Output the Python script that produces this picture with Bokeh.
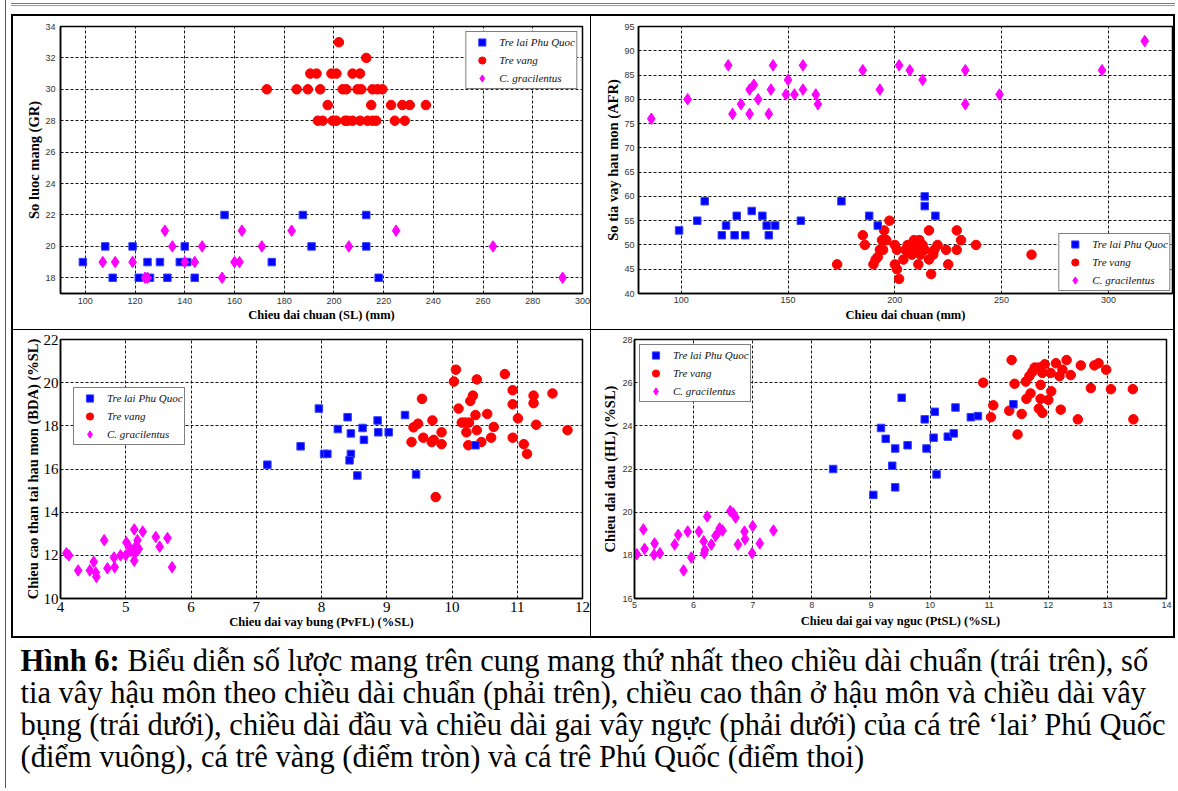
from bokeh.plotting import figure
from bokeh.models import Range1d, FixedTicker, Spacer, Legend, LegendItem
from bokeh.layouts import row, column
from bokeh.embed import file_html
from bokeh.resources import INLINE
from bokeh.core.properties import value

SERIES = ["Tre lai Phu Quoc", "Tre vang", "C. gracilentus"]

# ---------------- Panel 1: So luoc mang (GR) vs Chieu dai chuan (SL) ----------------
p1_blue_x = [99, 108, 111, 119, 121.5, 125, 126, 130, 133, 138, 140, 141, 144, 156, 175, 187.5, 191, 213, 213, 218]
p1_blue_y = [19, 20, 18, 20, 18, 19, 18, 19, 18, 19, 20, 19, 18, 22, 19, 22, 20, 22, 20, 18]
p1_red_x = [202, 213,
            190.5, 193, 199, 201, 207.5, 210.5,
            173, 185, 189.5, 194.5, 203.5, 205, 209.5, 211, 215.5, 217.5, 219.5,
            197.5, 215, 223, 227.5, 230.5, 237,
            193.5, 195.5, 199.5, 201, 204.5, 205.5, 207.5, 210.5, 213.5, 215.5, 217, 224.5, 228.5]
p1_red_y = [33, 32,
            31, 31, 31, 31, 31, 31,
            30, 30, 30, 30, 30, 30, 30, 30, 30, 30, 30,
            29, 29, 29, 29, 29, 29,
            28, 28, 28, 28, 28, 28, 28, 28, 28, 28, 28, 28, 28]
p1_mag_x = [107, 112, 119, 124, 125, 132, 135, 140, 144, 147, 155, 160, 162, 163, 171, 183, 206, 225, 264, 292]
p1_mag_y = [19, 19, 19, 18, 18, 21, 20, 19, 19, 20, 18, 19, 19, 21, 20, 21, 20, 21, 20, 18]
p1_xticks = [100, 120, 140, 160, 180, 200, 220, 240, 260, 280, 300]
p1_yticks = [18, 20, 22, 24, 26, 28, 30, 32, 34]

# ---------------- Panel 2: So tia vay hau mon (AFR) vs Chieu dai chuan ----------------
p2_blue_x = [99, 107.5, 111, 119, 121, 125, 126, 130, 133, 138, 140, 141, 144, 156, 175, 188, 192, 214, 214, 219]
p2_blue_y = [53, 55, 59, 52, 54, 52, 56, 52, 57, 56, 54, 52, 54, 55, 59, 56, 54, 60, 58, 56]
p2_red_x = [173, 185, 186, 190, 191, 192, 193, 194, 194.5, 195, 196, 197.5, 200, 200, 201, 201, 202, 204,
            205, 206, 207, 208, 209, 210, 211.5, 211, 213, 212, 214, 216, 216, 217, 218, 218.5, 220, 224,
            225, 229, 229, 231, 238, 264]
p2_red_y = [46, 52, 50, 46, 47, 47.5, 49, 51, 49, 53, 51, 55, 50, 46, 45, 49, 43, 47,
            49, 50, 48.5, 48, 51, 49.5, 51, 46, 50, 48, 49, 53, 47, 44, 48, 49, 50, 49,
            46, 53, 49, 51, 50, 48]
p2_mag_x = [86, 103, 122, 124, 128, 132, 132, 134, 136, 141, 142, 143, 149, 150, 153, 157, 157, 163, 164,
            185, 193, 202, 207, 213, 233, 233, 249, 297, 317]
p2_mag_y = [76, 80, 87, 77, 79, 82, 77, 83, 80, 77, 82, 87, 81, 84, 81, 87, 82, 81, 79,
            86, 82, 87, 86, 84, 86, 79, 81, 86, 92]
p2_xticks = [100, 150, 200, 250, 300]
p2_yticks = [40, 45, 50, 55, 60, 65, 70, 75, 80, 85, 90, 95]

# ---------------- Panel 3: BDA (%SL) vs PvFL (%SL) ----------------
p3_blue_x = [7.17, 7.68, 7.96, 8.04, 8.09, 8.25, 8.4, 8.45, 8.45, 8.43, 8.55, 8.63, 8.65, 8.86, 8.87, 9.03, 9.28, 9.45, 10.36]
p3_blue_y = [16.2, 17.05, 18.8, 16.7, 16.7, 17.85, 18.4, 17.65, 16.7, 16.4, 15.7, 17.9, 17.35, 18.25, 17.7, 17.7, 18.5, 15.75, 17.1]
p3_red_x = [10.06, 10.03, 10.38, 10.81, 10.93, 10.93, 11.25, 11.25, 11.54, 9.54, 10.32, 10.28, 10.1, 9.7,
            9.48, 9.41, 9.38, 9.56, 9.69, 9.72, 9.84, 9.84, 10.15, 10.2, 10.26, 10.36, 10.22, 10.38,
            10.25, 10.45, 10.54, 10.64, 10.6, 10.93, 11.01, 11.1, 11.15, 11.29, 11.77, 9.75]
p3_red_y = [20.6, 20.05, 20.15, 20.4, 19.65, 19.0, 19.4, 19.05, 19.5, 19.25, 19.4, 19.15, 18.8, 18.25,
            18.1, 17.93, 17.25, 17.45, 17.25, 17.35, 17.7, 17.15, 18.15, 18.15, 18.15, 18.5, 17.7, 17.8,
            17.1, 17.25, 18.55, 17.95, 17.45, 17.45, 18.35, 17.15, 16.7, 18.05, 17.8, 14.7]
p3_mag_x = [4.09, 4.13, 4.27, 4.45, 4.51, 4.54, 4.55, 4.67, 4.72, 4.82, 4.83, 4.92, 5.0, 5.01, 5.04,
            5.08, 5.13, 5.13, 5.14, 5.15, 5.18, 5.2, 5.26, 5.46, 5.52, 5.64, 5.71]
p3_mag_y = [12.1, 12.0, 11.3, 11.3, 11.7, 11.2, 11.0, 12.7, 11.4, 11.9, 11.45, 12.0, 12.0, 12.6, 12.45,
            12.2, 13.2, 11.75, 12.1, 12.4, 12.7, 12.3, 13.1, 12.85, 12.4, 12.8, 11.45]
p3_xticks = [4, 5, 6, 7, 8, 9, 10, 11, 12]
p3_yticks = [10, 12, 14, 16, 18, 20, 22]

# ---------------- Panel 4: HL (%SL) vs PtSL (%SL) ----------------
p4_blue_x = [8.36, 9.04, 9.17, 9.25, 9.36, 9.41, 9.41, 9.52, 9.62, 9.91, 9.94, 10.06, 10.08, 10.11,
             10.3, 10.4, 10.43, 10.69, 10.81, 11.41]
p4_blue_y = [22.0, 20.8, 23.9, 23.4, 22.15, 22.95, 21.15, 25.3, 23.1, 24.3, 22.95, 23.45, 24.65, 21.75,
             23.5, 23.65, 24.85, 24.4, 24.45, 25.0]
p4_red_x = [10.9, 11.07, 11.03, 11.38, 11.43, 11.34, 11.55, 11.48, 11.62, 11.63, 11.7, 11.68, 11.73,
            11.77, 11.84, 11.87, 11.87, 11.84, 11.9, 11.9, 11.94, 12.0, 12.04, 12.05, 12.13, 12.19,
            12.24, 12.21, 12.31, 12.38, 12.5, 12.55, 12.72, 12.78, 12.85, 12.98, 13.06, 13.43, 13.44]
p4_red_y = [26.0, 24.95, 24.4, 27.05, 25.95, 24.7, 24.55, 23.6, 26.05, 25.25, 25.5, 26.3, 26.5,
            26.7, 26.7, 25.9, 25.25, 24.8, 24.6, 26.45, 26.85, 25.2, 26.45, 25.6, 26.9, 26.3,
            26.6, 24.75, 27.05, 26.35, 24.3, 26.8, 25.75, 26.8, 26.9, 26.6, 25.7, 25.7, 24.3]
p4_mag_x = [5.04, 5.15, 5.17, 5.34, 5.33, 5.43, 5.68, 5.74, 5.83, 5.9, 5.96, 6.09, 6.17, 6.18, 6.19,
            6.23, 6.3, 6.37, 6.41, 6.44, 6.49, 6.62, 6.67, 6.71, 6.75, 6.86, 6.87, 7.0, 6.99, 7.12, 7.35]
p4_mag_y = [18.05, 19.2, 18.3, 18.55, 18.03, 18.1, 18.5, 18.95, 17.3, 19.1, 17.9, 19.1, 18.65, 18.1, 18.25,
            19.8, 18.5, 18.9, 19.05, 19.25, 19.15, 20.05, 19.95, 19.75, 18.5, 19.1, 18.75, 19.35, 18.1, 18.55, 19.15]
p4_xticks = [5, 6, 7, 8, 9, 10, 11, 12, 13, 14]
p4_yticks = [16, 18, 20, 22, 24, 26, 28]

CAPTION_BOLD = "Hình 6:"
CAPTION_LINES = [
    "Biểu diễn số lược mang trên cung mang thứ nhất theo chiều dài chuẩn (trái trên), số",
    "tia vây hậu môn theo chiều dài chuẩn (phải trên), chiều cao thân ở hậu môn và chiều dài vây",
    "bụng (trái dưới), chiều dài đầu và chiều dài gai vây ngực (phải dưới) của cá trê ‘lai’ Phú Quốc",
    "(điểm vuông), cá trê vàng (điểm tròn) và cá trê Phú Quốc (điểm thoi)",
]

BLUE, RED, MAG = "#0000ff", "#ff0000", "#ff00ff"
SERIF = "Liberation Serif"
SANS = "Liberation Sans"


def panel(w, h, xr, yr, xt, yt, borders, xlabel, ylabel, tick_font, tick_size, tick_color,
          xls, yls, xals, yals):
    p = figure(width=w, height=h, x_range=Range1d(*xr), y_range=Range1d(*yr),
               output_backend="svg", toolbar_location=None,
               min_border_left=borders[0], min_border_right=borders[1],
               min_border_top=borders[2], min_border_bottom=borders[3])
    p.background_fill_color = "white"
    p.border_fill_color = "white"
    p.outline_line_color = "black"
    p.outline_line_width = 1.5
    xa, ya = p.xaxis[0], p.yaxis[0]
    xa.ticker = FixedTicker(ticks=xt)
    ya.ticker = FixedTicker(ticks=yt)
    p.xgrid[0].ticker = FixedTicker(ticks=xt)
    p.ygrid[0].ticker = FixedTicker(ticks=yt)
    xa.axis_label = xlabel
    ya.axis_label = ylabel
    for ax, ls, als in ((xa, xls, xals), (ya, yls, yals)):
        ax.axis_line_color = "black"
        ax.axis_line_width = 1.5
        ax.major_tick_line_color = None
        ax.minor_tick_line_color = None
        ax.major_tick_in = 0
        ax.major_tick_out = 0
        ax.minor_tick_in = 0
        ax.minor_tick_out = 0
        ax.major_label_standoff = ls
        ax.axis_label_standoff = als
        ax.major_label_text_font = tick_font
        ax.major_label_text_font_size = tick_size
        ax.major_label_text_color = tick_color
        ax.axis_label_text_font = SERIF
        ax.axis_label_text_font_style = "bold"
        ax.axis_label_text_color = "black"
    xa.axis_label_text_font_size = "12.5px"
    ya.axis_label_text_font_size = "14.5px"
    for g in (p.xgrid[0], p.ygrid[0]):
        g.grid_line_color = "black"
        g.grid_line_width = 1
        g.grid_line_dash = "3 2"
        g.grid_line_alpha = 0.9
    return p


def plot_series(p, bx, by, rx, ry, mx, my):
    rr = p.scatter(rx, ry, marker="circle", size=9.5, fill_color=RED, line_color=RED, line_width=1)
    rb = p.scatter(bx, by, marker="square", size=7.5, fill_color=BLUE, line_color="#3344ff", line_width=1)
    rm = p.scatter(mx, my, marker="diamond", size=11.5, fill_color=MAG, line_color=MAG, line_width=1)
    return rb, rr, rm


def legend(p, rs, location, margin):
    leg = Legend(items=[LegendItem(label=SERIES[i], renderers=[rs[i]]) for i in range(3)],
                 location=location, margin=margin, padding=1, spacing=0,
                 glyph_height=18, glyph_width=29, label_height=18, label_standoff=3,
                 label_text_font=SERIF, label_text_font_style="italic",
                 label_text_font_size="11px", label_text_color="#111",
                 border_line_color="black", border_line_width=1.5,
                 background_fill_color="white", background_fill_alpha=1.0)
    p.add_layout(leg)


# page origin is (0, 0): panel block spans x 11..1175, y 14..638
p1 = panel(577, 313, (90, 300), (17, 34), p1_xticks, p1_yticks, (47, 8, 10, 36),
           "Chieu dai chuan (SL) (mm)", "So luoc mang (GR)", SANS, "9px", "#333", 4, 5, 1, 0)
legend(p1, plot_series(p1, p1_blue_x, p1_blue_y, p1_red_x, p1_red_y, p1_mag_x, p1_mag_y), "top_right", 5)

p2 = panel(582, 313, (80, 330), (40, 95), p2_xticks, p2_yticks, (47, 1, 7, 33),
           "Chieu dai chuan (mm)", "So tia vay hau mon (AFR)", SANS, "9px", "#333", 3, 4, 2, 0)
legend(p2, plot_series(p2, p2_blue_x, p2_blue_y, p2_red_x, p2_red_y, p2_mag_x, p2_mag_y), "bottom_right", 2)

p3 = panel(577, 306, (4, 12), (10, 22), p3_xticks, p3_yticks, (47, 8, 8, 38),
           "Chieu dai vay bung (PvFL) (%SL)", "Chieu cao than tai hau mon (BDA) (%SL)", SERIF, "15px", "black",
           3, 2, 0, 0)
legend(p3, plot_series(p3, p3_blue_x, p3_blue_y, p3_red_x, p3_red_y, p3_mag_x, p3_mag_y), (13, 153), 0)

p4 = panel(582, 306, (5, 14), (16, 28), p4_xticks, p4_yticks, (43, 7, 9, 36),
           "Chieu dai gai vay nguc (PtSL) (%SL)", "Chieu dai dau (HL) (%SL)", SANS, "9px", "#333", 3, 2, 3, 1)
legend(p4, plot_series(p4, p4_blue_x, p4_blue_y, p4_red_x, p4_red_y, p4_mag_x, p4_mag_y), "top_left", 5)

# caption
CW, CH = 1164, 150
CAP_SIZE = "30.5px"
cap = figure(width=CW, height=CH, x_range=Range1d(0, CW), y_range=Range1d(0, CH),
             output_backend="svg", toolbar_location=None, min_border=0,
             x_axis_location=None, y_axis_location=None)
cap.xgrid.visible = False
cap.ygrid.visible = False
cap.outline_line_color = None
cap.background_fill_color = "white"
cap.border_fill_color = "white"
line_y = [128, 96, 64, 32]
cap.text(x=[9], y=[line_y[0]], text=[CAPTION_BOLD], text_font=value(SERIF), text_font_style="bold",
         text_font_size=CAP_SIZE, text_baseline="middle", text_color="black")
cap.text(x=[116, 9, 9, 9], y=line_y, text=CAPTION_LINES, text_font=value(SERIF),
         text_font_size=CAP_SIZE, text_baseline="middle", text_color="black")


def bar(w, h, color="black"):
    return Spacer(width=w, height=h, styles={"background-color": color})


left_strip = Spacer(width=11, height=788,
                    styles={"background": "linear-gradient(to right, #ffffff 5px, #555 5px, #555 6px, #ffffff 6px)"})
top_sp = Spacer(width=1164, height=14,
                styles={"background": "linear-gradient(to bottom, #ffffff 3px, #777 3px, #777 4px, #ffffff 4px, #ffffff 5px, #999 5px, #999 6px, #ffffff 6px)"})

row1 = row(bar(2, 313), p1, bar(1, 313), p2, bar(2, 313), spacing=0)
row2 = row(bar(2, 306), p3, bar(1, 306), p4, bar(2, 306), spacing=0)
main = column(top_sp, bar(1164, 2), row1, bar(1164, 1), row2, bar(1164, 2), cap, spacing=0)
layout = row(left_strip, main, spacing=0)

open("out.html", "w").write(file_html(layout, INLINE))
